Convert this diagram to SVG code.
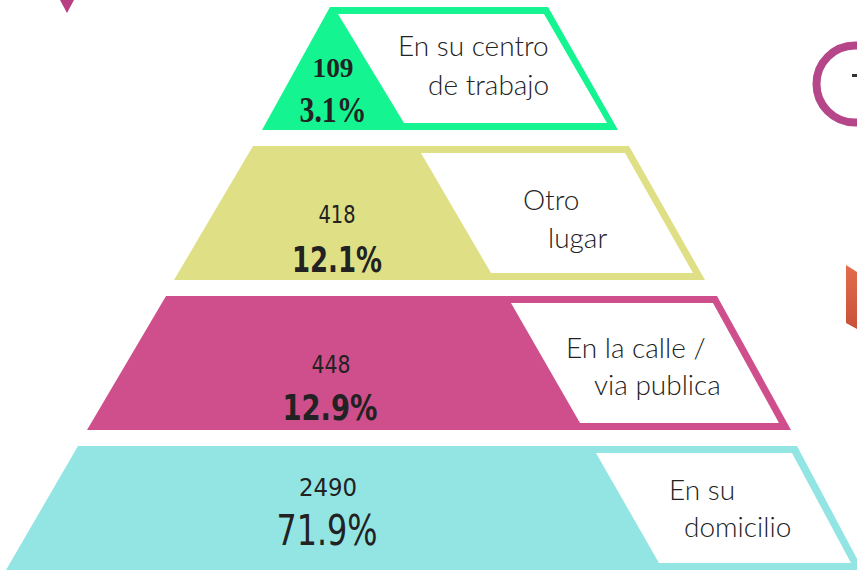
<svg xmlns="http://www.w3.org/2000/svg" width="857" height="570" viewBox="0 0 857 570">
  <defs>
    <linearGradient id="org" x1="0" y1="0" x2="0" y2="1">
      <stop offset="0" stop-color="#e36c4c"/>
      <stop offset="1" stop-color="#c9503a"/>
    </linearGradient>
    <style>
      .inner { fill: #ffffff; }
      .lbl { font-family: "Lato", "Liberation Sans", sans-serif; font-weight: 300; font-size: 28px; fill: #222222; }
      .cnt { font-family: "DejaVu Sans", "Liberation Sans", sans-serif; font-stretch: condensed; font-size: 24px; fill: #222222; text-anchor: middle; }
      .pct { font-family: "DejaVu Sans", "Liberation Sans", sans-serif; font-stretch: condensed; font-weight: bold; font-size: 36px; fill: #222222; text-anchor: middle; }
      .ser { font-family: "Liberation Serif", serif; font-weight: bold; fill: #222222; text-anchor: middle; }
    </style>
  </defs>
  <rect width="857" height="570" fill="#ffffff"/>

  <!-- decorations -->
  <polygon points="60,0 74,0 67,13" fill="#b83f84"/>
  <circle cx="855" cy="84" r="38.5" fill="none" stroke="#b5468a" stroke-width="8"/>
  <rect x="852" y="74" width="5" height="3" fill="#333333"/>
  <polygon points="846,265 857,272 857,329 846,323" fill="url(#org)"/>

  <g id="tier-centro-trabajo">
    <polygon points="330,7 548,7 618,130 262,130" fill="#14f591"/>
    <polygon class="inner" points="338,14 544,14 607,123 404,123"/>
    <text class="ser" x="333" y="77" font-size="27" textLength="41" lengthAdjust="spacingAndGlyphs">109</text>
    <text class="ser" x="333" y="122" font-size="36" textLength="67" lengthAdjust="spacingAndGlyphs">3.1%</text>
    <text class="lbl" x="398" y="56">En su centro</text>
    <text class="lbl" x="428" y="95">de trabajo</text>
  </g>

  <g id="tier-otro-lugar">
    <polygon points="253,146 629,146 705,280 174,280" fill="#dfdf85"/>
    <polygon class="inner" points="421,153 625,153 693,273 491,273"/>
    <text class="cnt" x="337" y="223" textLength="37" lengthAdjust="spacingAndGlyphs">418</text>
    <text class="pct" x="337" y="272" font-size="38" textLength="90" lengthAdjust="spacingAndGlyphs">12.1%</text>
    <text class="lbl" x="523" y="210">Otro</text>
    <text class="lbl" x="548" y="248">lugar</text>
  </g>

  <g id="tier-calle">
    <polygon points="166,296 717,296 791,430 87,430" fill="#cf4f8c"/>
    <polygon class="inner" points="511,303 713,303 779,423 580,423"/>
    <text class="cnt" x="331" y="373" textLength="39" lengthAdjust="spacingAndGlyphs">448</text>
    <text class="pct" x="330" y="420" font-size="38" textLength="95" lengthAdjust="spacingAndGlyphs">12.9%</text>
    <text class="lbl" x="566" y="358">En la calle /</text>
    <text class="lbl" x="594" y="395">via publica</text>
  </g>

  <g id="tier-domicilio">
    <polygon points="78,446 797,446 863,570 6,570" fill="#92e5e3"/>
    <polygon class="inner" points="596,453 792,453 851,563 659,563"/>
    <text class="cnt" x="328" y="496" font-size="26" textLength="58" lengthAdjust="spacingAndGlyphs">2490</text>
    <text class="pct" x="327" y="545" style="font-size:42px;font-weight:normal" textLength="101" lengthAdjust="spacingAndGlyphs">71.9%</text>
    <text class="lbl" x="669" y="500">En su</text>
    <text class="lbl" x="684" y="537">domicilio</text>
  </g>

  <g id="connectors"></g>
</svg>
